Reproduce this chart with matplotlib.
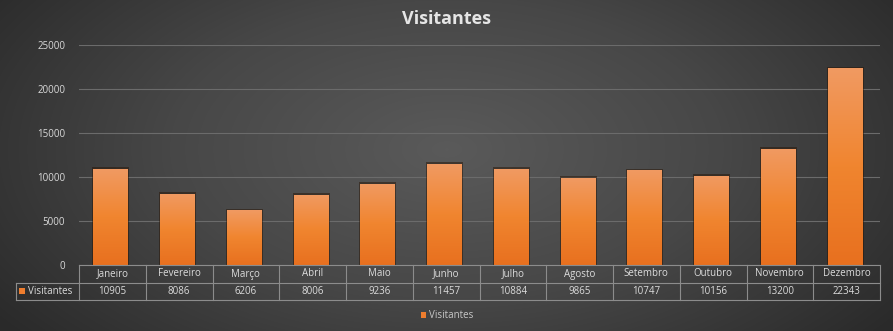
import numpy as np
import matplotlib
matplotlib.use('Agg')
import matplotlib.pyplot as plt
from matplotlib.colors import LinearSegmentedColormap
from matplotlib.patches import Rectangle

# Data
months = ['Janeiro', 'Fevereiro', 'Março', 'Abril', 'Maio', 'Junho',
          'Julho', 'Agosto', 'Setembro', 'Outubro', 'Novembro', 'Dezembro']
visitantes = [10905, 8086, 6206, 8006, 9236, 11457,
              10884, 9865, 10747, 10156, 13200, 22343]
yticks = [0, 5000, 10000, 15000, 20000, 25000]
series_name = 'Visitantes'

plt.rcParams['font.family'] = ['Open Sans', 'DejaVu Sans']
W, H = 893, 331
fig = plt.figure(figsize=(W / 100, H / 100), dpi=100)

# radial gradient background
bg = fig.add_axes([0, 0, 1, 1])
yy, xx = np.mgrid[0:H, 0:W]
r = np.sqrt(((xx - W * 0.5) / (W * 0.62)) ** 2 + ((yy - H * 0.45) / (H * 0.9)) ** 2)
bg_cmap = LinearSegmentedColormap.from_list('bg', ['#5a5a5a', '#474747', '#2a2a2a'])
bg.imshow(np.clip(r, 0, 1), cmap=bg_cmap, aspect='auto', extent=[0, 1, 0, 1],
          vmin=0, vmax=1)
bg.set_axis_off()

# plot area in pixels
x0, x1 = 79, 880
y_zero, y_top = 265, 45
ax = fig.add_axes([x0 / W, 1 - y_zero / H, (x1 - x0) / W, (y_zero - y_top) / H])
ax.set_facecolor('none')
n = len(months)
xs = np.arange(n)
ax.set_xlim(-0.5, n - 0.5)
ax.set_ylim(0, 25000)
ax.set_yticks(yticks)
ax.set_yticklabels([str(t) for t in yticks], color='#d9d9d9', fontsize=7)
ax.tick_params(axis='y', length=0, pad=10)
ax.set_xticks([])
for s in ax.spines.values():
    s.set_visible(False)
ax.grid(axis='y', color='#6b6b6b', linewidth=0.8)
ax.set_axisbelow(True)

# bars: soft shadow + gradient fill
bar_cmap = LinearSegmentedColormap.from_list('bar', ['#e8701f', '#f0852f', '#f19a62'])
grad = np.linspace(0, 1, 256).reshape(-1, 1)
bars = ax.bar(xs - 0.03, visitantes, width=0.51, color='#ee7d2e', zorder=3)
for b in bars:
    bx, bw, bh = b.get_x(), b.get_width(), b.get_height()
    sh = Rectangle((bx - 0.015, 0), bw + 0.045, bh + 200, facecolor='#2a1606',
                   alpha=0.5, edgecolor='none', zorder=2)
    ax.add_patch(sh)
    im = ax.imshow(grad, cmap=bar_cmap, aspect='auto', origin='lower',
                   extent=[bx, bx + bw, 0, bh], zorder=4)
    im.set_clip_path(b)

# data table drawn below the plot area
line_c = '#8c8c8c'
txt_c = '#dcdcdc'
row1, row2, row3 = y_zero, 283, 300
col_w = (x1 - x0) / n
tab = fig.add_axes([0, 0, 1, 1], facecolor='none')
tab.set_xlim(0, W)
tab.set_ylim(H, 0)
tab.set_axis_off()
lw = 0.8
tab.plot([x0, x1], [row1, row1], color=line_c, lw=lw)
tab.plot([16, x1], [row2, row2], color=line_c, lw=lw)
tab.plot([16, x1], [row3, row3], color=line_c, lw=lw)
tab.plot([16, 16], [row2, row3], color=line_c, lw=lw)
for i in range(n + 1):
    cx = x0 + i * col_w
    tab.plot([cx, cx], [row1, row3], color=line_c, lw=lw)
for i, (m, v) in enumerate(zip(months, visitantes)):
    cx = x0 + (i + 0.5) * col_w
    tab.text(cx, (row1 + row2) / 2, m, ha='center', va='center', fontsize=7, color=txt_c)
    tab.text(cx, (row2 + row3) / 2, str(v), ha='center', va='center', fontsize=7, color=txt_c)
tab.add_patch(Rectangle((19, 288), 6, 6, facecolor='#ee7d2e', edgecolor='none'))
tab.text(28, (row2 + row3) / 2, series_name, ha='left', va='center', fontsize=7, color=txt_c)

# legend at bottom
tab.add_patch(Rectangle((421, 312), 5, 6, facecolor='#ee7d2e', edgecolor='none'))
tab.text(429, 315, series_name, ha='left', va='center', fontsize=7, color='#c8c8c8')

# title
fig.text(0.5, 1 - 19 / H, series_name, ha='center', va='center', fontsize=13,
         fontweight='bold', color='#e6e6e6')

fig.savefig('out.png', dpi=100)
